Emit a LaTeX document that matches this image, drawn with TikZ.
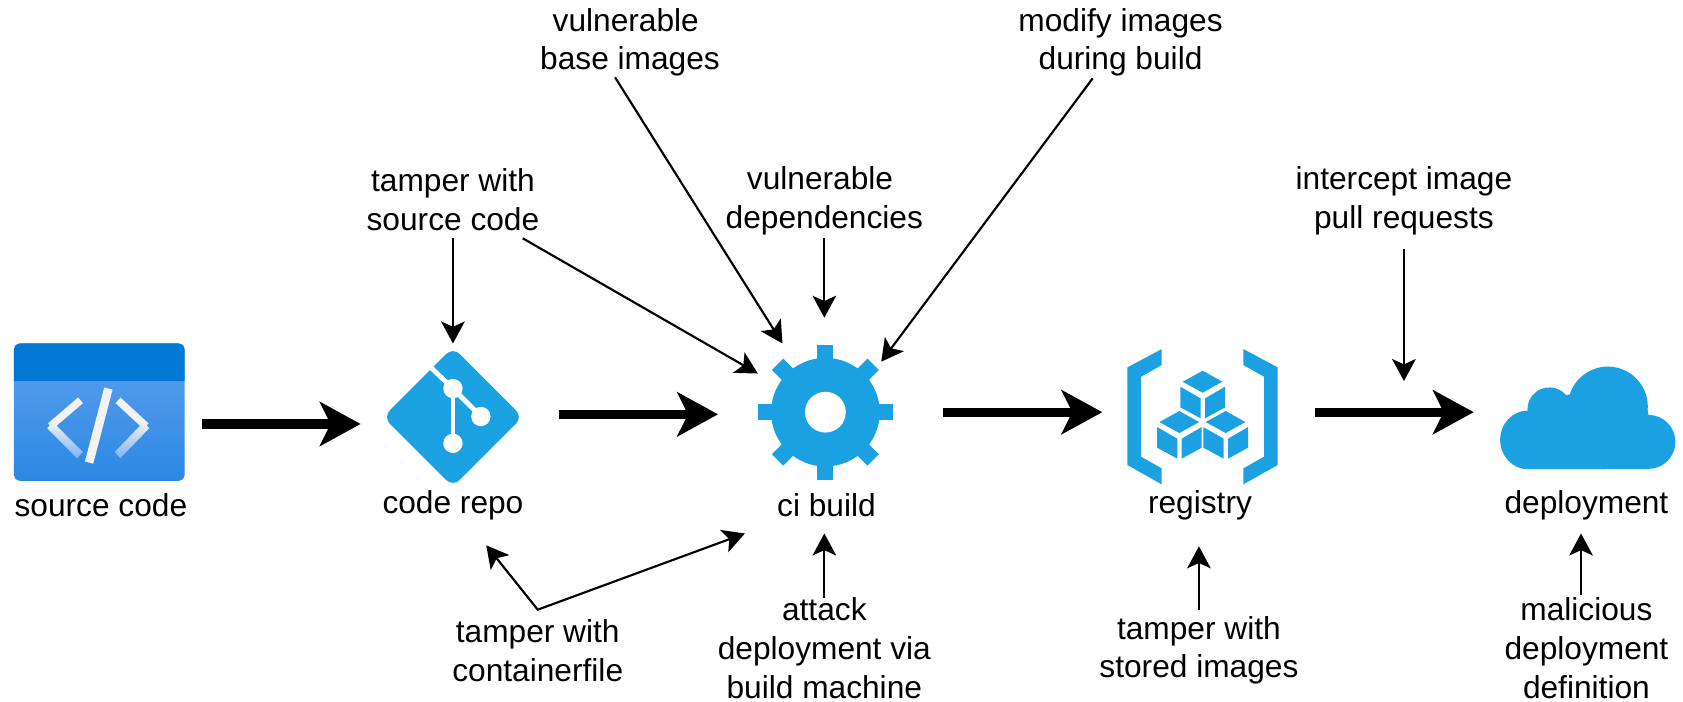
\documentclass[tikz,border=0pt]{standalone}
\usepackage{fontspec}
\setmainfont{Liberation Sans}
\usetikzlibrary{arrows.meta}
\definecolor{iconblue}{HTML}{1BA1E2}
\definecolor{barblue}{HTML}{0078D4}
\definecolor{bodytop}{HTML}{5EA0EF}
\definecolor{bodybot}{HTML}{2B88E3}
\definecolor{slashwhite}{HTML}{F2F2F2}

\tikzset{
    txt/.style={align=center, inner sep=0pt, font=\fontsize{16.8}{20.5}\selectfont},
    iconspot/.style={inner sep=0pt, minimum size=0pt},
    bigarrow/.style={line width=0.17cm, -{Stealth[length=0.76cm,width=0.82cm,inset=0.2cm]}},
    thinarrow/.style={line width=0.04cm, -{Stealth[length=0.41cm,width=0.44cm,inset=0.1cm]}},
    bothways/.style={line width=0.04cm, {Stealth[length=0.41cm,width=0.44cm,inset=0.1cm]}-{Stealth[length=0.41cm,width=0.44cm,inset=0.1cm]}},
}

\newcommand{\regcube}[1]{
    \begin{scope}[shift={#1}]
        \fill[iconblue] (0,0) -- (59,33) -- (0,66) -- (-60,33) -- cycle;
        \fill[iconblue] (-67,48) -- (-6,83) -- (-6,143) -- (-67,110) -- cycle;
        \fill[iconblue] (7,83) -- (67,48) -- (67,110) -- (7,143) -- cycle;
    \end{scope}
}

\begin{document}
\begin{tikzpicture}[x=0.02cm, y=-0.02cm]
    \useasboundingbox (0,0) rectangle (1568,654);

    % source code
    \node[iconspot] (srcicon) at (92.5,384) {};
    \shade[top color=bodytop, bottom color=bodybot, rounded corners=3pt] (13,320) rectangle (172,448);
    \fill[barblue] (13,355) {[rounded corners=3pt] -- (13,320) -- (172,320)} -- (172,355) -- cycle;
    \draw[slashwhite, line width=0.14cm] (75,373) -- (47,397);
    \draw[slashwhite, line width=0.14cm] (110,373) -- (136,397);
    \shade[top color=slashwhite, bottom color=bodytop!80!white] (44,399) -- (49,393) -- (77,421) -- (72,427) -- cycle;
    \shade[top color=slashwhite, bottom color=bodytop!80!white] (139,399) -- (134,393) -- (107,421) -- (112,427) -- cycle;
    \draw[slashwhite, line width=0.16cm] (101,362) -- (83,431);
    \node[txt] (srctxt) at (94,471) {source code};

    % code repo
    \node[iconspot] (repoicon) at (422,388) {};
    \fill[iconblue, rounded corners=5pt] (422,323.5) -- (487,388.5) -- (422,453.5) -- (357,388.5) -- cycle;
    \draw[white, line width=0.09cm] (400,341) -- (422,362) -- (448,388);
    \draw[white, line width=0.09cm] (422,362) -- (422,413);
    \foreach \dx/\dy in {0/-26, 26/0, 0/25} {
        \fill[white] (422+\dx,388+\dy) circle (9);
    }
    \node[txt] (repotxt) at (422,471) {code repo};

    % ci build
    \node[iconspot] (ci) at (769,384) {};
    \begin{scope}[shift={(769,384)}]
        \fill[iconblue] (0,0) circle (50.6);
        \foreach \a in {0,45,...,315} {
            \fill[iconblue, rotate=\a] (-7.5,-45) rectangle (7.5,-63);
        }
        \fill[white] (0,0) circle (19);
    \end{scope}
    \node[txt] (citxt) at (770,471) {ci build};

    % registry
    \node[iconspot] (regicon) at (1120,388) {};
    \begin{scope}[shift={(1034.2,307.5)}, x=0.00621cm, y=-0.00621cm]
        \fill[iconblue] (52,112) -- (155,57) -- (155,105) -- (93,140) -- (93,380) -- (155,415) -- (155,463) -- (52,405) -- cycle;
        \fill[iconblue] (400,57) -- (503,112) -- (503,405) -- (400,463) -- (400,415) -- (462,380) -- (462,140) -- (400,105) -- cycle;
        \regcube{(278,122)}
        \regcube{(208,243)}
        \regcube{(347,243)}
    \end{scope}
    \node[txt] (regtxt) at (1118,471) {registry};

    % deployment
    \node[iconspot] (cloud) at (1479,390) {};
    \begin{scope}[shift={(1379,326)}, x=0.00621cm, y=-0.00621cm]
        \fill[iconblue] (143,358) arc[start angle=90, end angle=270, x radius=83, y radius=88]
            -- (142,175) arc[start angle=183, end angle=320, radius=66]
            -- (269,133) arc[start angle=198, end angle=365, radius=120]
            -- (505,195) arc[start angle=270, end angle=450, radius=81] -- cycle;
    \end{scope}
    \node[txt] (deptxt) at (1478,471) {deployment};

    % threats, top
    \node[txt] (tampersrc) at (422,186) {tamper with\\source code};
    \node[txt] (baseimg) at (587,39.5) {vulnerable\hspace*{0.16cm}\\base images};
    \node[txt] (vuldep) at (768,187) {vulnerable\hspace*{0.16cm}\\dependencies};
    \node[txt] (modimg) at (1044,39.5) {modify images\\during build};
    \node[txt] (pullreq) at (1308,187) {intercept image\\pull requests};
    \coordinate (pullend) at (1308,355);

    % threats, bottom
    \node[txt] (tampercf) at (501,606) {tamper with\\containerfile};
    \node[txt] (attack) at (768,604) {attack\\deployment via\\build machine};
    \node[txt] (tamperimg) at (1117,606) {tamper with\\stored images};
    \node[txt] (maldep) at (1478,604) {malicious\\deployment\\definition};

    % pipeline
    \draw[bigarrow] ([shift={(95.5,11)}]srcicon.center) -- ([shift={(-86,7)}]repoicon.center);
    \draw[bigarrow] ([shift={(99,-2)}]repoicon.center) -- ([shift={(-100,2)}]ci.center);
    \draw[bigarrow] ([shift={(110,0)}]ci.center) -- ([shift={(-93,-4)}]regicon.center);
    \draw[bigarrow] ([shift={(105,-4)}]regicon.center) -- ([shift={(-106,-6)}]cloud.center);

    % attacks
    \draw[thinarrow] ([shift={(0,36)}]tampersrc.center) -- ([shift={(0,-68)}]repoicon.center);
    \draw[thinarrow] ([shift={(65,36)}]tampersrc.center) -- ([shift={(-63,-36)}]ci.center);
    \draw[thinarrow] ([shift={(-14,32.5)}]baseimg.center) -- ([shift={(-40,-64)}]ci.center);
    \draw[thinarrow] ([shift={(0,35)}]vuldep.center) -- ([shift={(-1,-88)}]ci.center);
    \draw[thinarrow] ([shift={(-26,33.5)}]modimg.center) -- ([shift={(52,-47)}]ci.center);
    \draw[thinarrow] ([shift={(0,45)}]pullreq.center) -- (pullend);
    \draw[bothways] ([shift={(31,37)}]repotxt.center) -- ([shift={(0,-38)}]tampercf.center) -- ([shift={(-76,26)}]citxt.center);
    \draw[thinarrow] ([shift={(0,-47)}]attack.center) -- ([shift={(-2,26)}]citxt.center);
    \draw[thinarrow] ([shift={(0,-38)}]tamperimg.center) -- ([shift={(-1,38)}]regtxt.center);
    \draw[thinarrow] ([shift={(-5,-50)}]maldep.center) -- ([shift={(-5,26)}]deptxt.center);
\end{tikzpicture}
\end{document}
